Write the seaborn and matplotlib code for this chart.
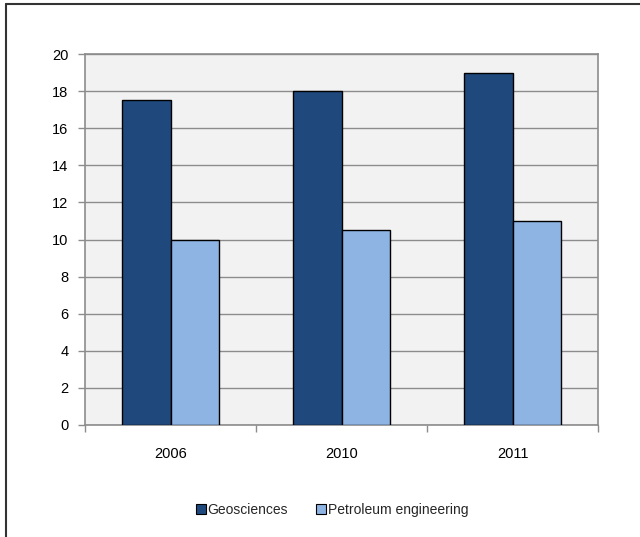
import matplotlib
matplotlib.use("Agg")
import matplotlib.pyplot as plt
import seaborn as sns
import pandas as pd
from matplotlib.lines import Line2D

years = ["2006", "2010", "2011"]
geosciences = [17.5, 18.0, 19.0]
petroleum = [10.0, 10.5, 11.0]
series_names = ["Geosciences", "Petroleum engineering"]
y_ticks = [0, 2, 4, 6, 8, 10, 12, 14, 16, 18, 20]

df = pd.DataFrame({
    "year": years * 2,
    "value": geosciences + petroleum,
    "series": [series_names[0]] * 3 + [series_names[1]] * 3,
})

sns.set_theme(style="white")
plt.rcParams["font.family"] = ["Liberation Sans", "DejaVu Sans"]

FS = 10.5

fig = plt.figure(figsize=(6.4, 5.37), dpi=100)
ax = fig.add_axes([85 / 640, 1 - 425 / 537, (598 - 85) / 640, (425 - 54) / 537])

palette = {series_names[0]: "#1F497D", series_names[1]: "#8EB4E3"}
sns.barplot(data=df, x="year", y="value", hue="series", palette=palette,
            width=0.567, edgecolor="black", linewidth=1.0, saturation=1,
            ax=ax, legend=False, zorder=3)

ax.set_facecolor("#F2F2F2")
ax.set_ylim(0, 20)
ax.set_xlim(-0.5, 2.5)
ax.set_yticks(y_ticks)
ax.set_yticklabels([str(t) for t in y_ticks], fontsize=FS, color="black")
ax.yaxis.grid(True, color="#8C8C8C", linewidth=1.0, zorder=0)
ax.xaxis.grid(False)
ax.set_xlabel("")
ax.set_ylabel("")

for side in ["left", "right", "top", "bottom"]:
    ax.spines[side].set_visible(True)
    ax.spines[side].set_color("#8C8C8C")
    ax.spines[side].set_linewidth(1.2)

ax.tick_params(axis="y", which="major", direction="out", length=5,
               width=1, color="#8C8C8C", pad=7, left=True)
# category labels centred under each group, boundary ticks between groups
ax.set_xticks([0, 1, 2])
ax.set_xticklabels(years, fontsize=FS, color="black")
ax.tick_params(axis="x", which="major", length=0, pad=16)
ax.set_xticks([-0.5, 0.5, 1.5, 2.5], minor=True)
ax.tick_params(axis="x", which="minor", direction="out", length=5,
               width=1, color="#8C8C8C", bottom=True)

handles = [Line2D([0], [0], marker="s", linestyle="none", markersize=6.5,
                  markerfacecolor=palette[n], markeredgecolor="black",
                  markeredgewidth=0.8) for n in series_names]
fig.legend(handles, series_names, loc="center", bbox_to_anchor=(332 / 640, 1 - 510 / 537),
           ncol=2, frameon=False, fontsize=10, handletextpad=0.05,
           columnspacing=2.0, handlelength=0.8)

# outer chart frame
fig.add_artist(Line2D([6 / 640, 6 / 640], [0, 1 - 4 / 537], transform=fig.transFigure,
                      color="#333333", linewidth=1.5))
fig.add_artist(Line2D([6 / 640, 1], [1 - 4 / 537, 1 - 4 / 537], transform=fig.transFigure,
                      color="#333333", linewidth=1.5))

fig.savefig("out.png", dpi=100)
